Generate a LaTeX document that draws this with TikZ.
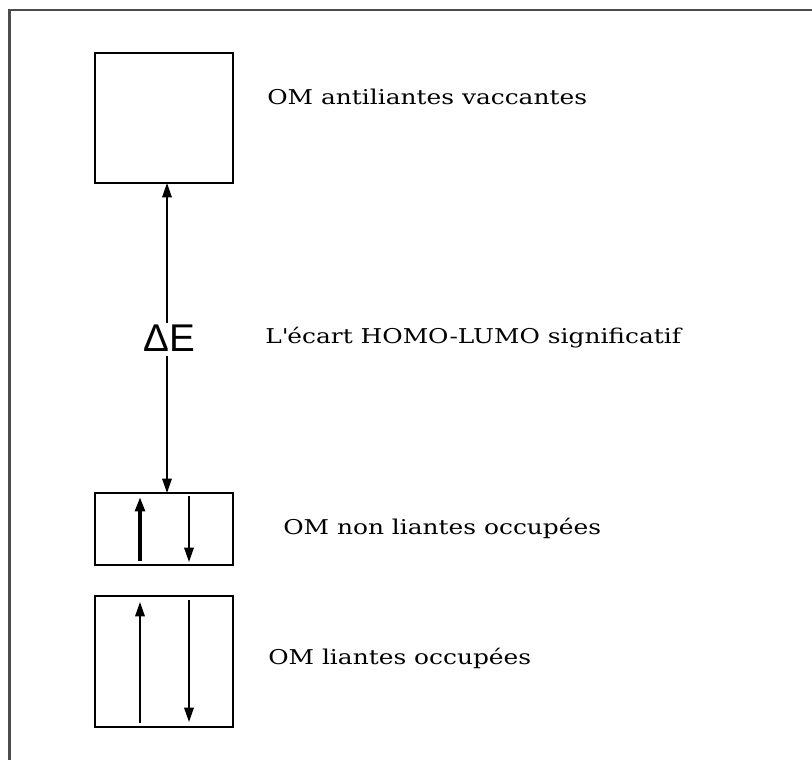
\documentclass[tikz,border=0pt]{standalone}
\usepackage{fontspec}
\setmainfont[FakeStretch=1.22]{DejaVu Serif}
\newfontfamily\deltafont{Liberation Sans}
\usetikzlibrary{arrows.meta, positioning}

\begin{document}
\begin{tikzpicture}[
	x=0.025cm, y=-0.025cm,
	OrbBox/.style={rectangle, draw, line width=1.4pt, minimum width=3.45cm,
		inner sep=0pt, outer sep=0pt},
	OrbLabel/.style={anchor=base west, inner sep=0pt, font=\fontsize{14.5}{17}\selectfont},
	Spin/.style={line width=1.1pt, -{Triangle[length=3.6mm, width=2.4mm]}},
	Gap/.style={line width=1pt, -{Triangle[length=3.6mm, width=2.4mm]}}
	]

\useasboundingbox (0,0) rectangle (812,760);
\draw [black!70, line width=2pt] (9.5,760) -- (9.5,10) -- (812,10);

% niveaux
\node [OrbBox, minimum height=3.25cm] (vac) at (164,118) {};
\node [OrbBox, minimum height=1.8cm] (nonl) at (164,529) {};
\node [OrbBox, minimum height=3.275cm] (lia) at (164,661.5) {};

% ecart HOMO-LUMO
\node [font=\deltafont\fontsize{27.5}{30}\selectfont, inner sep=1pt] (dE) at (169,338) {ΔE};
\draw [Gap] (167,323) coordinate (gapA) -- (gapA |- vac.south);
\draw [Gap] (167,356) coordinate (gapB) -- (gapB |- nonl.north);

% electrons
\coordinate (upA) at (140,561);  \coordinate (upB) at (140,497);
\coordinate (dnA) at (189,496);  \coordinate (dnB) at (189,562);
\coordinate (upC) at (140,723);  \coordinate (upD) at (140,602);
\coordinate (dnC) at (189,600);  \coordinate (dnD) at (189,722);
\draw [Spin, line width=2.6pt] (upA) -- (upB);
\draw [Spin] (dnA) -- (dnB);
\draw [Spin] (upC) -- (upD);
\draw [Spin] (dnC) -- (dnD);

% textes
\node [OrbLabel] (tvac) at (267,105) {OM antiliantes vaccantes};
\node [OrbLabel] (tgap) at (265,344) {L\textquotesingle écart HOMO-LUMO significatif};
\node [OrbLabel] (tnonl) at (283,535) {OM non liantes occupées};
\node [OrbLabel] (tlia) at (268,665) {OM liantes occupées};

\end{tikzpicture}
\end{document}
